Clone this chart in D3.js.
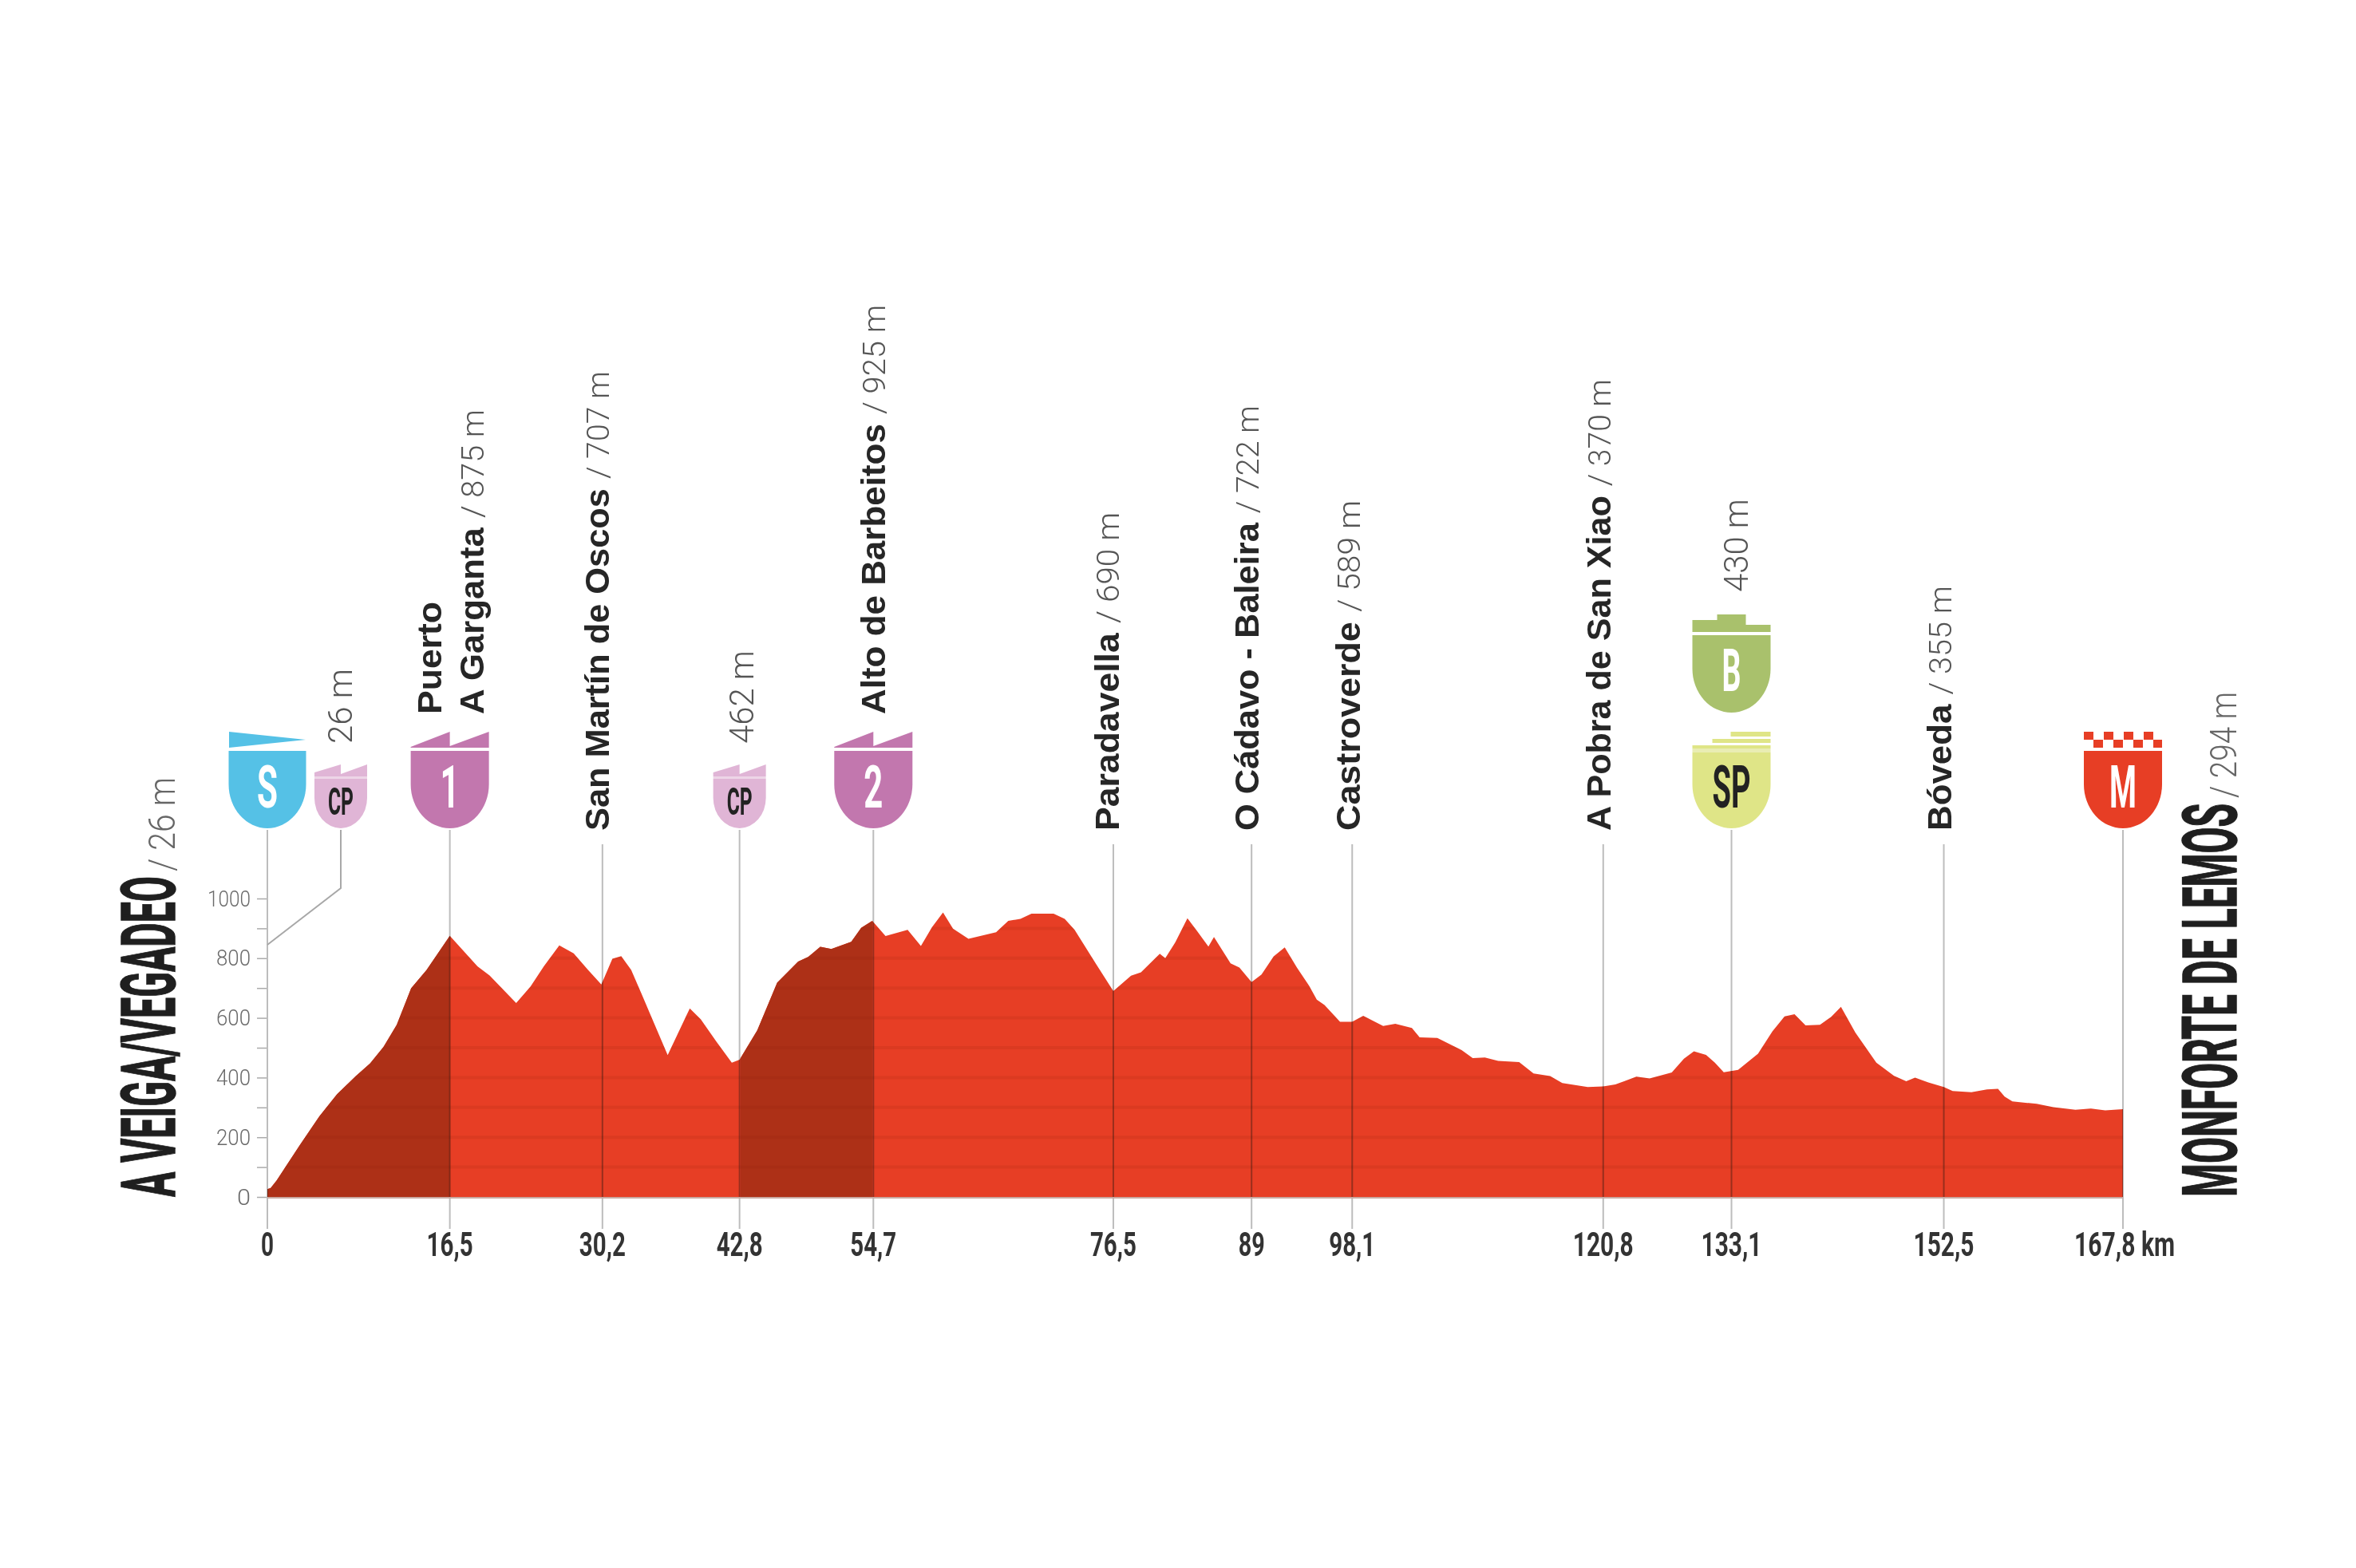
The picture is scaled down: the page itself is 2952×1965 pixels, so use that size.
<!DOCTYPE html>
<html><head><meta charset="utf-8">
<script src="https://cdn.jsdelivr.net/npm/d3@7"></script>
<style>html,body{margin:0;background:#fff}svg{display:block;filter:blur(0.7px)}</style></head>
<body><script>
// ---- data ----
const profileKm=[0,0.3,0.83,2.9,4.7,6.3,8,9.3,10.5,11.7,13,14.4,16.5,19,20.1,22.5,23.8,25,26.4,27.7,29,30.2,31.2,32,32.9,33.9,36.2,38.2,39.2,40.6,42,42.7,44.3,46.1,48,48.9,50,51,52.8,53.7,54.7,55.9,57.9,59.1,60.1,61.1,62,63.4,65.9,67,68.1,69.1,71.1,72.1,73,74.9,76.5,78.1,79,80.7,81.2,82.1,83.2,84.1,85.1,85.6,87.1,87.9,89,89.9,91,92,93.1,94.2,94.9,95.6,97,98.1,99.1,100.9,102,103.5,104.2,105.8,108,109,110.1,111.3,113.2,114.5,116,117.1,119.4,120.8,121.9,123.8,125,127,128.1,129,130.1,130.9,131.7,133,134.8,136.1,137.2,138.1,139.1,140.4,141.4,142.3,143.6,145.5,147.1,148.2,149,150.2,151.6,152.4,154.1,155.5,156.5,157.1,157.8,160,161.5,163.5,164.9,166.2,167.8];
const profileEle=[26,30,55,172,270,344,405,448,503,577,699,761,875,773,742,650,705,773,843,816,761,712,798,807,761,675,475,632,595,521,450,460,558,718,789,804,838,831,855,902,925,874,895,841,904,953,899,865,887,925,932,949,949,932,895,783,690,741,753,815,800,853,934,890,839,871,783,769,720,745,806,836,769,708,661,643,587,587,607,573,580,566,535,533,492,465,467,456,452,414,405,382,368,370,377,403,397,417,463,488,476,450,418,426,480,555,605,612,575,577,603,637,551,450,406,388,400,384,368,355,351,360,362,336,320,312,301,292,296,290,294];
const climbKm=[[0,16.5],[42.8,54.7]];
const markKm=[0,16.5,30.3,42.7,54.8,76.5,89,98.1,120.8,132.4,151.6,167.8];
const markLabels=["0","16,5","30,2","42,8","54,7","76,5","89","98,1","120,8","133,1","152,5","167,8 km"];
const yTicks=d3.range(0,1001,100);
const yLabels=["0","200","400","600","800","1000"];
const placeNames=["San Martín de Oscos","Alto de Barbeitos","Paradavella","O Cádavo - Baleira","Castroverde","A Pobra de San Xiao","Bóveda"];
const placeHeights=["707 m","925 m","690 m","722 m","589 m","370 m","355 m"];
const startName="A VEIGA/VEGADEO", startHeight="26 m";
const finishName="MONFORTE DE LEMOS", finishHeight="294 m";

// ---- colours and layout ----
const RED="#e73e25",DARK="#ad3017",INK="#262626",GREY="#666";
const COND="Roboto";
const W=2952,H=1965;
const svg=d3.select("body").append("svg").attr("width",W).attr("height",H);
const x=d3.scaleLinear([0,167.8],[335,2660]);
const y=d3.scaleLinear([0,1000],[1500,1126]);
const pts=profileKm.map((k,i)=>[k,profileEle[i]]);
const area=d3.area().x(d=>x(d[0])).y0(y(0)).y1(d=>y(d[1]));
svg.append("defs").append("clipPath").attr("id","prof").append("path").attr("d",area(pts));

// y axis ticks
const yAxis=d3.axisLeft(y).tickValues(yTicks).tickSize(13).tickFormat(d=>yLabels.includes(String(d))?d:"");
const ga=svg.append("g").attr("transform","translate(335,0)").call(yAxis);
ga.select(".domain").remove();
ga.selectAll("line").attr("stroke","#aaa").attr("stroke-width",1.5);
ga.selectAll("text").attr("x",-21).attr("dy",".34em").attr("fill","#6a6a6a")
  .attr("font-family","Roboto").attr("font-weight",300).attr("font-size",27)
  .attr("textLength",d=>d===1000?54:d===0?17:43).attr("lengthAdjust","spacingAndGlyphs");

// guides behind the profile
const tops={0:1040,16.5:1040,42.7:1040,54.8:1040,132.4:1040,167.8:1040};
markKm.forEach(k=>{
  svg.append("line").attr("x1",x(k)).attr("x2",x(k)).attr("y1",tops[k]||1058).attr("y2",1540).attr("stroke","#bdbdbd").attr("stroke-width",2);
});
svg.append("path").attr("d",`M427,1040V1113L${x(0)},1184`).attr("fill","none").attr("stroke","#a8a8a8").attr("stroke-width",2);

// profile
svg.append("path").attr("d",area(pts)).attr("fill",RED);
const clip=svg.append("g").attr("clip-path","url(#prof)");
climbKm.forEach(c=>clip.append("rect").attr("x",x(c[0])).attr("width",x(c[1])-x(c[0])).attr("y",y(1000)).attr("height",y(0)-y(1000)).attr("fill",DARK));
clip.selectAll("line.s").data(d3.range(100,1000,100)).join("line")
  .attr("x1",x(0)).attr("x2",x(167.8)).attr("y1",d=>y(d)).attr("y2",d=>y(d))
  .attr("stroke","#8a1c08").attr("stroke-opacity",.13).attr("stroke-width",4);
clip.selectAll("line.g").data(markKm).join("line")
  .attr("x1",d=>x(d)).attr("x2",d=>x(d)).attr("y1",y(1000)).attr("y2",y(0))
  .attr("stroke","#3a1a12").attr("stroke-opacity",.45).attr("stroke-width",2);
svg.append("line").attr("x1",x(0)).attr("x2",x(167.8)).attr("y1",1501).attr("y2",1501).attr("stroke","#c9a9a2").attr("stroke-width",2);

// tick labels
const cond=(sel,len)=>sel.attr("textLength",len).attr("lengthAdjust","spacingAndGlyphs");
const tickW={"0":16,"16,5":58,"30,2":58,"42,8":58,"54,7":58,"76,5":58,"89":33,"98,1":58,"120,8":76,"133,1":76,"152,5":76,"167,8 km":126};
svg.selectAll("text.km").data(markLabels).join("text").attr("class","km")
  .attr("x",(d,i)=>d.endsWith("km")?2599:x(markKm[i])).attr("y",1574)
  .attr("text-anchor",d=>d.endsWith("km")?"start":"middle")
  .attr("font-family",COND).attr("font-weight",700).attr("font-size",43).attr("fill","#333")
  .text(d=>d).each(function(d){cond(d3.select(this),tickW[d]);});

// vertical text helper
function vtext(bx,by,len,parts){
  const t=svg.append("text").attr("transform",`translate(${bx},${by}) rotate(-90)`).attr("font-size",43).attr("font-family","Liberation Sans");
  parts.forEach(p=>t.append("tspan").attr("font-family",p[1]?"Liberation Sans":"Roboto").attr("font-weight",p[1]?700:300).attr("font-size",p[1]?43:p[2]||39).attr("fill",p[1]?INK:"#555").text(p[0]));
  cond(t,len);
}
const placeBase=[763,1109,1402,1577,1704,2018,2445];
const placeBot=[1041,895,1041,1041,1041,1041,1041];
const placeLen=[576,513,399,533,414,566,307];
placeNames.forEach((n,i)=>vtext(placeBase[i],placeBot[i],placeLen[i],[[n+" ",1],["/ "+placeHeights[i],0]]));
vtext(553,895,141,[["Puerto",1]]);
vtext(606,895,382,[["A Garganta ",1],["/ 875 m",0]]);
vtext(441,932,94,[["26 m",0,43]]);
vtext(944,932,117,[["462 m",0,43]]);
vtext(2190,742,117,[["430 m",0,43]]);

// big names
function big(bx,by,name,h,nl,hb,hl){
  const a=svg.append("text").attr("transform",`translate(${bx},${by}) rotate(-90)`).attr("font-family",COND).attr("font-weight",700).attr("font-size",94).attr("fill","#1f1f1f").attr("stroke","#1f1f1f").attr("stroke-width",1.5).text(name);
  cond(a,nl);
  const b=svg.append("text").attr("transform",`translate(${bx},${hb}) rotate(-90)`).attr("font-family",COND).attr("font-weight",300).attr("font-size",47).attr("fill",GREY).text("/ "+h);
  cond(b,hl);
}
big(219,1500,startName,startHeight,402,1092,118);
big(2802,1500,finishName,finishHeight,493,1000,133);

// badges
function shield(cx,w,top,bot,fill,ry){
  const r=w/2;
  svg.append("path").attr("fill",fill).attr("d",`M${cx-r},${top}H${cx+r}V${bot-ry}A${r},${ry} 0 0 1 ${cx-r},${bot-ry}Z`);
}
function bt(cx,cyb,txt,fill,size,len){
  const t=svg.append("text").attr("x",cx).attr("y",cyb).attr("text-anchor","middle").attr("font-family",COND).attr("font-weight",700).attr("font-size",size).attr("fill",fill).text(txt);
  cond(t,len);
}
const cS=x(0),c1=x(16.5),c2=x(54.8),cSP=x(132.4),cM=x(167.8);
// start
svg.append("path").attr("fill","#55c1e6").attr("d",`M${cS-48},917L${cS+48},927L${cS-48},937Z`);
shield(cS,97,941,1038,"#55c1e6",55); bt(cS,1012,"S","#fff",74,26);
// cp
[427,x(42.7)].forEach(c=>{
  svg.append("path").attr("fill","#e0b5d6").attr("d",`M${c-33},968L${c},958V970L${c+33},958V973H${c-33}Z`);
  shield(c,66,976,1038,"#e0b5d6",38);
  svg.append("rect").attr("x",c-33).attr("y",973).attr("width",66).attr("height",3).attr("fill","#edd5e7");
  bt(c,1021,"CP","#222",49,32);
});
// KOM
[[c1,"1"],[c2,"2"]].forEach(b=>{
  const c=b[0];
  svg.append("path").attr("fill","#c277ae").attr("d",`M${c-49},936L${c},917V935L${c+49},917V937H${c-49}Z`);
  shield(c,98,941,1038,"#c277ae",55); bt(c,1012,b[1],"#fff",74,24);
});
// bonus
svg.append("path").attr("fill","#a9c16c").attr("d",`M${cSP-49},777H${cSP-18}V770H${cSP+18}V783H${cSP+49}V792H${cSP-49}Z`);
shield(cSP,98,796,893,"#a9c16c",55); bt(cSP,866,"B","#fff",74,24);
// sprint
svg.append("rect").attr("x",cSP-1).attr("y",917).attr("width",50).attr("height",6).attr("fill","#dfe587");
svg.append("rect").attr("x",cSP-24).attr("y",926).attr("width",73).attr("height",5).attr("fill","#dfe587");
svg.append("rect").attr("x",cSP-49).attr("y",934).attr("width",98).attr("height",4).attr("fill","#dfe587");
svg.append("rect").attr("x",cSP-49).attr("y",938).attr("width",98).attr("height",5).attr("fill","#e9edb3");
shield(cSP,98,943,1038,"#dfe587",55); bt(cSP,1012,"SP","#222",74,48);
// finish
d3.range(4).forEach(i=>{
  svg.append("rect").attr("x",cM-49+i*25).attr("y",917).attr("width",12).attr("height",10).attr("fill",RED);
  svg.append("rect").attr("x",cM-37+i*25).attr("y",927).attr("width",Math.min(12,cM+49-(cM-37+i*25))).attr("height",10).attr("fill",RED);
});
shield(cM,98,941,1038,RED,55); bt(cM,1012,"M","#fff",74,34);
</script></body></html>
